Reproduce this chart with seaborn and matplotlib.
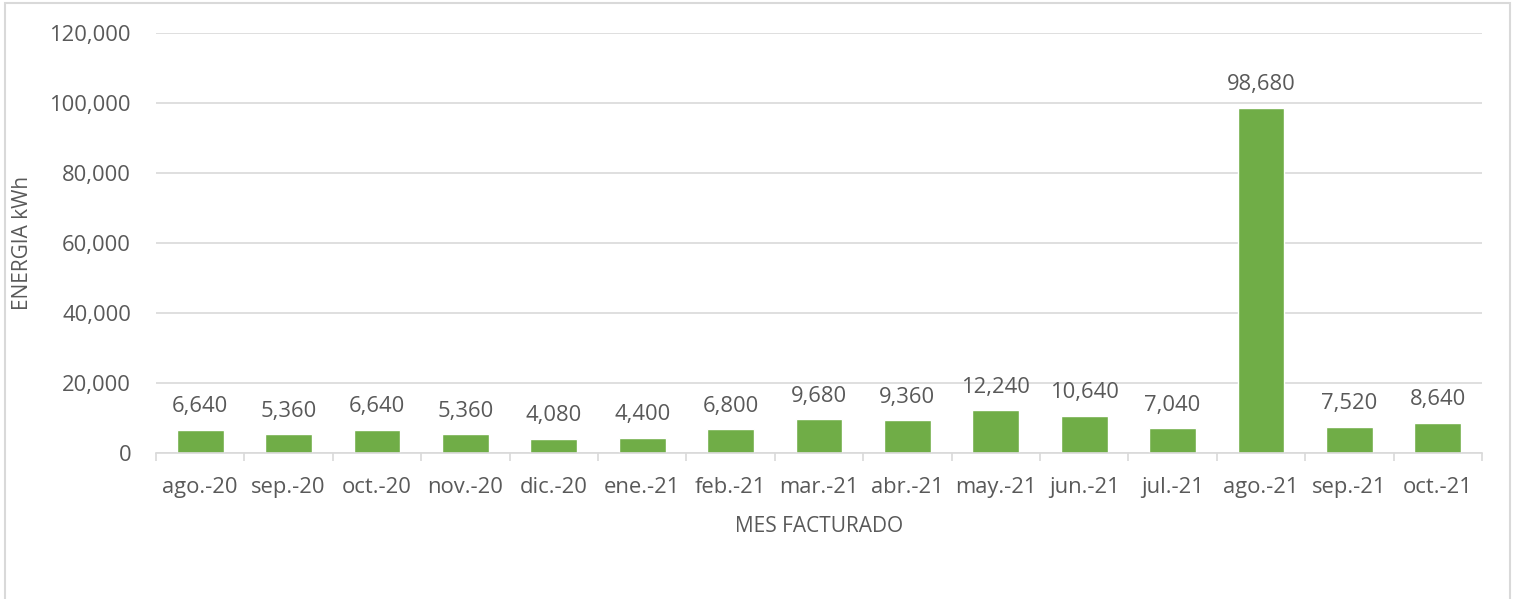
import matplotlib
matplotlib.use("Agg")
import matplotlib.pyplot as plt
import seaborn as sns
import pandas as pd
from matplotlib.patches import Rectangle
from matplotlib.ticker import FuncFormatter

months = ["ago.-20", "sep.-20", "oct.-20", "nov.-20", "dic.-20", "ene.-21", "feb.-21",
          "mar.-21", "abr.-21", "may.-21", "jun.-21", "jul.-21", "ago.-21", "sep.-21", "oct.-21"]
energy = [6640, 5360, 6640, 5360, 4080, 4400, 6800, 9680, 9360, 12240, 10640, 7040, 98680, 7520, 8640]
yticks = [0, 20000, 40000, 60000, 80000, 100000, 120000]

sns.set_theme(style="white")
plt.rcParams['font.family'] = ['Open Sans', 'DejaVu Sans']

TXT = "#595959"
GRID = "#D9D9D9"
BAR = "#70AD47"
FS = 15.8

fig = plt.figure(figsize=(15.17, 5.99), dpi=100)
ax = fig.add_axes([156/1517, 1 - 453/599, (1482 - 156)/1517, (453 - 33)/599])

df = pd.DataFrame({"mes": months, "kwh": energy})
sns.barplot(data=df, x="mes", y="kwh", color=BAR, width=0.53, saturation=1, ax=ax, zorder=3)

ax.set_ylim(0, 120000)
ax.set_yticks(yticks)
ax.yaxis.set_major_formatter(FuncFormatter(lambda v, p: f"{int(v):,}"))
ax.set_xlim(-0.5, len(months) - 0.5)
ax.grid(axis="y", color=GRID, linewidth=1.2, zorder=0)
ax.grid(axis="x", visible=False)
for s in ["top", "right", "left"]:
    ax.spines[s].set_visible(False)
ax.spines["bottom"].set_color(GRID)
ax.spines["bottom"].set_linewidth(1.2)
ax.spines["bottom"].set_zorder(4)

ax.tick_params(axis="y", length=0, pad=18, labelsize=FS, labelcolor=TXT)
ax.tick_params(axis="x", which="major", length=0, pad=17, labelsize=FS, labelcolor=TXT)
# category boundary ticks
ax.set_xticks([i - 0.5 for i in range(len(months) + 1)], minor=True)
ax.tick_params(axis="x", which="minor", length=6, width=1.2, color=GRID, bottom=True)

ax.set_xlabel("MES FACTURADO", fontsize=15, color=TXT, labelpad=13)
ax.set_ylabel("ENERGIA kWh", fontsize=15, color=TXT, labelpad=12)

for c in ax.containers:
    ax.bar_label(c, labels=[f"{v:,}" for v in energy], padding=9, fontsize=FS, color=TXT)

fig.patches.append(Rectangle((5/1517, -0.05), 1505/1517, 1.05 - 3/599, transform=fig.transFigure,
                             fill=False, edgecolor=GRID, linewidth=1.5))

fig.savefig("out.png", dpi=100)
